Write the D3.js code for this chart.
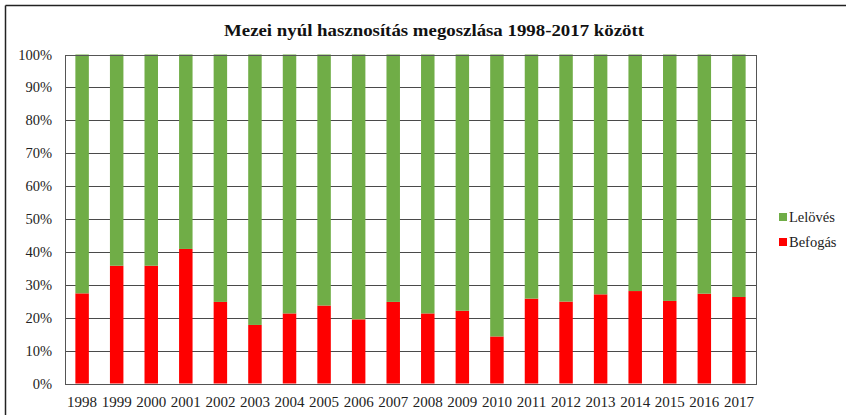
<!DOCTYPE html>
<html>
<head>
<meta charset="utf-8">
<script src="https://cdn.jsdelivr.net/npm/d3@7"></script>
<style>
  html, body { margin: 0; padding: 0; background: #fff; }
  svg { display: block; }
</style>
</head>
<body>
<div id="chart"></div>
<script>
const years = ['1998','1999','2000','2001','2002','2003','2004','2005','2006','2007',
  '2008','2009','2010','2011','2012','2013','2014','2015','2016','2017'];
const befogas = [27.4, 35.8, 35.8, 40.9, 24.8, 17.8, 21.3, 23.7, 19.5, 24.8,
  21.3, 22.1, 14.3, 25.8, 24.9, 27.1, 28.1, 25.1, 27.3, 26.3];
const lelloves = befogas.map(v => 100 - v);
const seriesNames = ['Befogás', 'Lelövés'];
const yTicks = [0, 10, 20, 30, 40, 50, 60, 70, 80, 90, 100];

const W = 846, H = 415;
const mL = 65, mR = 756, mT = 54.5, mB = 383.5;
const SERIF = 'Liberation Serif, Times New Roman, serif';
const RED = '#fe0000', GREEN = '#70ad47';

const svg = d3.select('#chart').append('svg').attr('width', W).attr('height', H);

// outer frame (only top + left visible in the crop)
svg.append('line').attr('x1', 5.5).attr('x2', W).attr('y1', 5.5).attr('y2', 5.5)
  .attr('stroke', '#222').attr('stroke-width', 1.5);
svg.append('line').attr('x1', 5.5).attr('x2', 5.5).attr('y1', 5.5).attr('y2', H)
  .attr('stroke', '#222').attr('stroke-width', 1.5);

svg.append('text').attr('x', 434).attr('y', 36).attr('text-anchor', 'middle')
  .attr('font-family', SERIF).attr('font-weight', 700).attr('font-size', 16)
  .attr('textLength', 420).attr('lengthAdjust', 'spacingAndGlyphs')
  .attr('fill', '#111').text('Mezei nyúl hasznosítás megoszlása 1998-2017 között');

const x = d3.scaleBand().domain(years).range([mL, mR]).paddingInner(0.61).paddingOuter(0.3);
const y = d3.scaleLinear().domain([0, 100]).range([mB, mT]);

yTicks.forEach(t => {
  svg.append('line').attr('x1', mL).attr('x2', mR).attr('y1', Math.round(y(t)) + 0.5).attr('y2', Math.round(y(t)) + 0.5)
    .attr('stroke', '#4a4a4a').attr('stroke-width', 1);
  svg.append('text').attr('x', 52).attr('y', y(t) + 5).attr('text-anchor', 'end')
    .attr('font-family', SERIF).attr('font-size', 14.5).attr('fill', '#222').text(t + '%');
});

const stacked = d3.stack().keys([0, 1]).value((d, k) => k === 0 ? d.b : d.l)(
  years.map((yr, i) => ({ yr, b: befogas[i], l: lelloves[i] })));
const colors = [RED, GREEN];
stacked.forEach((layer, k) => {
  svg.append('g').selectAll('rect').data(layer).join('rect')
    .attr('x', d => x(d.data.yr)).attr('width', x.bandwidth())
    .attr('y', d => y(d[1])).attr('height', d => y(d[0]) - y(d[1]))
    .attr('fill', colors[k]);
});

// plot frame
svg.append('rect').attr('x', mL + 0.5).attr('y', Math.round(mT) + 0.5)
  .attr('width', mR - mL).attr('height', Math.round(mB) - Math.round(mT))
  .attr('fill', 'none').attr('stroke', '#555').attr('stroke-width', 1);

years.forEach(yr => {
  svg.append('text').attr('x', x(yr) + x.bandwidth() / 2).attr('y', 407).attr('text-anchor', 'middle')
    .attr('font-family', SERIF).attr('font-size', 15).attr('fill', '#222').text(yr);
});

// legend (Lelövés on top)
[1, 0].forEach((k, i) => {
  const ly = 217 + i * 25;
  svg.append('rect').attr('x', 779).attr('y', ly - 4).attr('width', 8).attr('height', 8).attr('fill', colors[k]);
  svg.append('text').attr('x', 789).attr('y', ly + 5).attr('font-family', SERIF).attr('font-size', 14.5)
    .attr('fill', '#222').text(seriesNames[k]);
});
</script>
</body>
</html>
